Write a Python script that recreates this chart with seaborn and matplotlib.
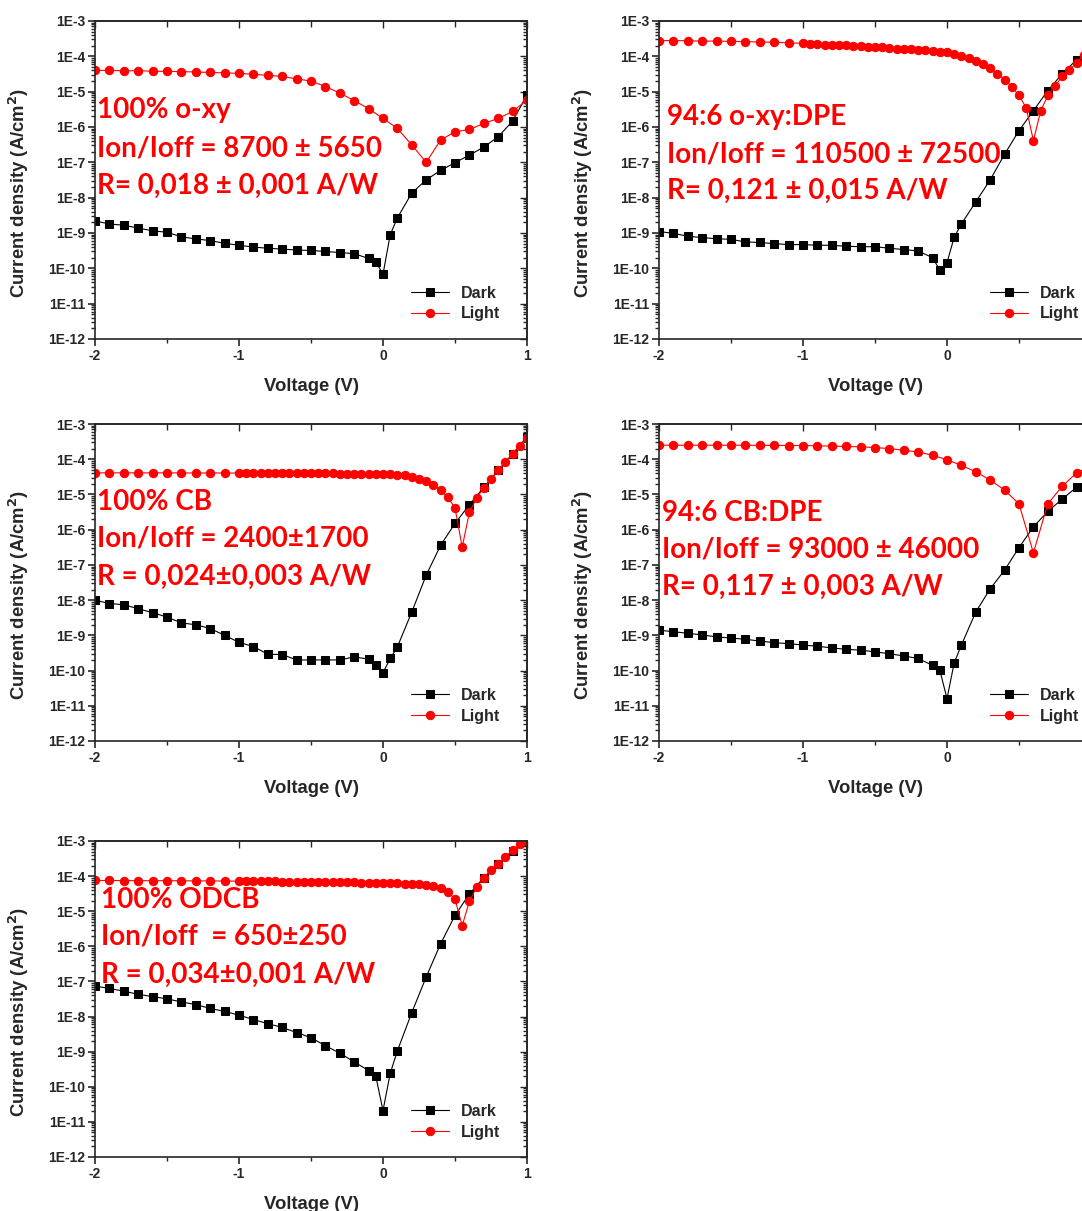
import numpy as np
import pandas as pd
import matplotlib
matplotlib.use("Agg")
import matplotlib.pyplot as plt
import seaborn as sns
from matplotlib.ticker import LogLocator, FuncFormatter, MultipleLocator, NullFormatter

# ---------------- data ----------------
dark_x = [-2.0, -1.9, -1.8, -1.7, -1.6, -1.5, -1.4, -1.3, -1.2, -1.1, -1.0, -0.9, -0.8, -0.7, -0.6,
          -0.5, -0.4, -0.3, -0.2, -0.1, -0.05, 0.0, 0.05, 0.1, 0.2, 0.3, 0.4, 0.5, 0.6, 0.7, 0.8, 0.9, 1.0]

light_x_coarse = [-2.0, -1.9, -1.8, -1.7, -1.6, -1.5, -1.4, -1.3, -1.2, -1.1, -1.0, -0.9, -0.8, -0.7, -0.6,
                  -0.5, -0.4, -0.3, -0.2, -0.1, 0.0, 0.1, 0.2, 0.3, 0.4, 0.5, 0.6, 0.7, 0.8, 0.9, 1.0]

light_x_fine = [-2.0, -1.9, -1.8, -1.7, -1.6, -1.5, -1.4, -1.3, -1.2, -1.1,
                -1.0, -0.95, -0.9, -0.85, -0.8, -0.75, -0.7, -0.65, -0.6, -0.55,
                -0.5, -0.45, -0.4, -0.35, -0.3, -0.25, -0.2, -0.15, -0.1, -0.05,
                0.0, 0.05, 0.1, 0.15, 0.2, 0.25, 0.3, 0.35, 0.4, 0.45,
                0.5, 0.55, 0.6, 0.65, 0.7, 0.75, 0.8, 0.85, 0.9, 0.95, 1.0]

# Panel 1: 100% o-xy
dark_oxy = [2.2e-9, 1.8e-9, 1.66e-9, 1.38e-9, 1.15e-9, 1.05e-9, 7.8e-10, 6.8e-10, 6.1e-10, 5.1e-10,
            4.5e-10, 4.0e-10, 3.7e-10, 3.5e-10, 3.3e-10, 3.2e-10, 3.0e-10, 2.8e-10, 2.6e-10, 1.9e-10,
            1.55e-10, 6.8e-11, 8.9e-10, 2.7e-9, 1.35e-8, 3.2e-8, 5.9e-8, 9.8e-8, 1.6e-7, 2.7e-7,
            5.3e-7, 1.47e-6, 8.0e-6]
light_oxy = [4.0e-5, 4.0e-5, 3.9e-5, 3.9e-5, 3.8e-5, 3.75e-5, 3.7e-5, 3.6e-5, 3.5e-5, 3.4e-5,
             3.3e-5, 3.1e-5, 2.9e-5, 2.7e-5, 2.3e-5, 2.0e-5, 1.4e-5, 9.1e-6, 5.6e-6, 3.3e-6,
             1.75e-6, 9.1e-7, 3.1e-7, 1.0e-7, 4.3e-7, 7.3e-7, 8.5e-7, 1.26e-6, 1.75e-6, 2.75e-6, 5.8e-6]

# Panel 2: 94:6 o-xy:DPE
dark_oxy_dpe = [1.1e-9, 9.8e-10, 8.1e-10, 7.4e-10, 6.9e-10, 6.6e-10, 5.6e-10, 5.4e-10, 5.0e-10, 4.7e-10,
                4.7e-10, 4.5e-10, 4.5e-10, 4.2e-10, 4.1e-10, 4.1e-10, 3.7e-10, 3.4e-10, 3.1e-10, 2.0e-10,
                8.9e-11, 1.45e-10, 7.6e-10, 1.8e-9, 7.6e-9, 3.2e-8, 1.7e-7, 7.9e-7, 2.9e-6, 1.07e-5,
                3.2e-5, 8.0e-5, 1.8e-4]
light_oxy_dpe = [2.8e-4, 2.8e-4, 2.75e-4, 2.7e-4, 2.7e-4, 2.65e-4, 2.6e-4, 2.55e-4, 2.5e-4, 2.4e-4,
                 2.35e-4, 2.3e-4, 2.2e-4, 2.15e-4, 2.1e-4, 2.08e-4, 2.05e-4, 1.98e-4, 1.9e-4, 1.88e-4,
                 1.85e-4, 1.78e-4, 1.7e-4, 1.65e-4, 1.6e-4, 1.58e-4, 1.55e-4, 1.48e-4, 1.4e-4, 1.35e-4,
                 1.3e-4, 1.15e-4, 1.04e-4, 8.8e-5, 7.6e-5, 5.9e-5, 4.7e-5, 3.2e-5, 2.2e-5, 1.38e-5,
                 7.8e-6, 3.5e-6, 4.1e-7, 2.8e-6, 7.8e-6, 1.45e-5, 2.7e-5, 4.1e-5, 6.6e-5, 1.1e-4, 1.6e-4]

# Panel 3: 100% CB
dark_cb = [1.0e-8, 8.0e-9, 7.4e-9, 5.7e-9, 4.4e-9, 3.3e-9, 2.25e-9, 2.0e-9, 1.56e-9, 1.0e-9,
           6.3e-10, 4.8e-10, 2.9e-10, 2.85e-10, 2.0e-10, 2.0e-10, 2.0e-10, 2.0e-10, 2.45e-10, 2.1e-10,
           1.4e-10, 8.7e-11, 2.2e-10, 4.7e-10, 4.6e-9, 5.1e-8, 3.6e-7, 1.5e-6, 5.1e-6, 1.6e-5,
           4.9e-5, 1.4e-4, 4.4e-4]
light_cb = [4.1e-5, 4.1e-5, 4.1e-5, 4.1e-5, 4.1e-5, 4.1e-5, 4.08e-5, 4.08e-5, 4.07e-5, 4.06e-5,
            4.05e-5, 4.05e-5, 4.04e-5, 4.03e-5, 4.02e-5, 4.01e-5, 4.0e-5, 4.0e-5, 3.99e-5, 3.98e-5,
            3.97e-5, 3.96e-5, 3.95e-5, 3.94e-5, 3.93e-5, 3.92e-5, 3.9e-5, 3.89e-5, 3.87e-5, 3.85e-5,
            3.8e-5, 3.7e-5, 3.6e-5, 3.5e-5, 3.2e-5, 2.8e-5, 2.4e-5, 1.9e-5, 1.3e-5, 8.3e-6,
            4.1e-6, 3.2e-7, 3.1e-6, 7.9e-6, 1.55e-5, 2.7e-5, 4.8e-5, 8.2e-5, 1.45e-4, 2.4e-4, 4.1e-4]

# Panel 4: 94:6 CB:DPE
dark_cb_dpe = [1.4e-9, 1.27e-9, 1.14e-9, 1.03e-9, 9.0e-10, 8.4e-10, 7.7e-10, 6.9e-10, 6.2e-10, 5.8e-10,
               5.3e-10, 4.9e-10, 4.4e-10, 4.0e-10, 3.8e-10, 3.4e-10, 3.0e-10, 2.6e-10, 2.2e-10, 1.4e-10,
               1.03e-10, 1.6e-11, 1.65e-10, 5.3e-10, 4.6e-9, 2.1e-8, 7.1e-8, 3.1e-7, 1.2e-6, 3.3e-6,
               7.4e-6, 1.6e-5, 3.0e-5]
light_cb_dpe = [2.5e-4, 2.5e-4, 2.5e-4, 2.5e-4, 2.5e-4, 2.5e-4, 2.5e-4, 2.48e-4, 2.47e-4, 2.45e-4,
                2.45e-4, 2.4e-4, 2.35e-4, 2.3e-4, 2.25e-4, 2.15e-4, 2.0e-4, 1.8e-4, 1.6e-4, 1.3e-4,
                9.7e-5, 6.7e-5, 4.4e-5, 2.55e-5, 1.33e-5, 5.4e-6, 2.2e-7, 5.4e-6, 1.7e-5, 4.1e-5, 6.5e-5]

# Panel 5: 100% ODCB
dark_odcb = [7.4e-8, 6.3e-8, 5.3e-8, 4.3e-8, 3.7e-8, 3.2e-8, 2.6e-8, 2.2e-8, 1.7e-8, 1.4e-8,
             1.1e-8, 8.2e-9, 6.3e-9, 4.9e-9, 3.5e-9, 2.5e-9, 1.47e-9, 9.1e-10, 5.1e-10, 2.9e-10,
             2.0e-10, 2.1e-11, 2.4e-10, 1.06e-9, 1.3e-8, 1.34e-7, 1.18e-6, 7.6e-6, 3.1e-5, 9.1e-5,
             2.2e-4, 5.2e-4, 9.5e-4]
light_odcb = [7.5e-5, 7.5e-5, 7.45e-5, 7.4e-5, 7.4e-5, 7.4e-5, 7.35e-5, 7.3e-5, 7.3e-5, 7.25e-5,
              7.2e-5, 7.2e-5, 7.15e-5, 7.1e-5, 7.1e-5, 7.05e-5, 7.0e-5, 7.0e-5, 6.95e-5, 6.9e-5,
              6.9e-5, 6.85e-5, 6.8e-5, 6.75e-5, 6.7e-5, 6.65e-5, 6.6e-5, 6.55e-5, 6.5e-5, 6.45e-5,
              6.4e-5, 6.3e-5, 6.2e-5, 6.1e-5, 6.0e-5, 5.8e-5, 5.5e-5, 5.1e-5, 4.6e-5, 3.6e-5,
              2.2e-5, 3.9e-6, 1.9e-5, 4.8e-5, 9.1e-5, 1.48e-4, 2.2e-4, 3.6e-4, 5.4e-4, 8.0e-4, 1.0e-3]

labels_oxy = ["100% o-xy", "Ion/Ioff = 8700 \u00b1 5650", "R= 0,018 \u00b1 0,001 A/W"]
labels_oxy_dpe = ["94:6 o-xy:DPE", "Ion/Ioff = 110500 \u00b1 72500", "R= 0,121 \u00b1 0,015 A/W"]
labels_cb = ["100% CB", "Ion/Ioff = 2400\u00b11700", "R = 0,024\u00b10,003 A/W"]
labels_cb_dpe = ["94:6 CB:DPE", "Ion/Ioff = 93000 \u00b1 46000", "R= 0,117 \u00b1 0,003 A/W"]
labels_odcb = ["100% ODCB", "Ion/Ioff  = 650\u00b1250", "R = 0,034\u00b10,001 A/W"]

series_names = ["Dark", "Light"]

# ---------------- style ----------------
sns.set_style("ticks")
plt.rcParams['font.family'] = ['Liberation Sans', 'DejaVu Sans']
plt.rcParams['axes.linewidth'] = 1.2

W, H = 1082, 1211
fig = plt.figure(figsize=(W / 100, H / 100), dpi=100)

panels = [
    # (left px, top px, bottom px, dark, light_x, light, labels, text x px, baselines px, legend x, cut right)
    (95, 21, 339, dark_oxy, light_x_coarse, light_oxy, labels_oxy, 97, [118, 157, 194], 0.713, False),
    (659, 21, 339, dark_oxy_dpe, light_x_fine, light_oxy_dpe, labels_oxy_dpe, 667, [125, 162, 199], 0.748, True),
    (95, 424, 741, dark_cb, light_x_fine, light_cb, labels_cb, 97, [510, 547, 585], 0.713, False),
    (659, 424, 741, dark_cb_dpe, light_x_coarse, light_cb_dpe, labels_cb_dpe, 662, [521, 558, 595], 0.748, True),
    (95, 841, 1157, dark_odcb, light_x_fine, light_odcb, labels_odcb, 101, [908, 945, 983], 0.713, False),
]

AX_W = 432
fmt = FuncFormatter(lambda v, p: "1E{:d}".format(int(round(np.log10(v)))))

for (lpx, tpx, bpx, dark, lx, light, texts, tx, tys, legx, cut) in panels:
    ax = fig.add_axes([lpx / W, 1 - bpx / H, AX_W / W, (bpx - tpx) / H])
    df_d = pd.DataFrame({"V": dark_x, "J": dark})
    df_l = pd.DataFrame({"V": lx, "J": light})
    sns.lineplot(data=df_d, x="V", y="J", ax=ax, color="black", marker="s", markersize=6,
                 markeredgecolor="black", linewidth=0.8, label=series_names[0],
                 estimator=None, sort=False)
    sns.lineplot(data=df_l, x="V", y="J", ax=ax, color="#ff0000", marker="o", markersize=6,
                 markeredgecolor="#ff0000", linewidth=0.8, label=series_names[1],
                 estimator=None, sort=False)
    ax.set_yscale("log")
    ax.set_ylim(1e-12, 1e-3)
    ax.set_xlim(-2, 1)
    ax.yaxis.set_major_locator(LogLocator(base=10, numticks=20))
    ax.yaxis.set_minor_locator(LogLocator(base=10, subs=np.arange(2, 10), numticks=200))
    ax.yaxis.set_major_formatter(fmt)
    ax.yaxis.set_minor_formatter(NullFormatter())
    ax.xaxis.set_major_locator(MultipleLocator(1))
    ax.xaxis.set_minor_locator(MultipleLocator(0.5))
    if cut:
        # the right end of these panels lies past the picture's edge
        ax.xaxis.set_major_formatter(FuncFormatter(
            lambda v, p: "" if v > 0.5 else "{:d}".format(int(round(v)))))
    else:
        ax.xaxis.set_major_formatter(FuncFormatter(lambda v, p: "{:d}".format(int(round(v)))))
    ax.tick_params(which="major", direction="out", length=5, width=1.2, labelsize=10, pad=2)
    ax.tick_params(which="minor", direction="out", length=3, width=1.0)
    for lab in ax.get_xticklabels() + ax.get_yticklabels():
        lab.set_fontweight("bold")

    secx = ax.secondary_xaxis("top")
    secx.xaxis.set_major_locator(MultipleLocator(1))
    secx.xaxis.set_minor_locator(MultipleLocator(0.5))
    secx.tick_params(which="both", direction="in", labeltop=False, width=1.0)
    secx.tick_params(which="major", length=5)
    secx.tick_params(which="minor", length=4)
    secy = ax.secondary_yaxis("right")
    secy.yaxis.set_major_locator(LogLocator(base=10, numticks=20))
    secy.yaxis.set_minor_locator(LogLocator(base=10, subs=np.arange(2, 10), numticks=200))
    secy.tick_params(which="both", direction="in", labelright=False, width=1.0)
    secy.tick_params(which="major", length=5)
    secy.tick_params(which="minor", length=3)

    ax.set_xlabel("Voltage (V)", fontsize=13.3, fontweight="bold", labelpad=11)
    ax.set_ylabel("Current density (A/cm$^\\mathbf{2}$)", fontsize=13.3, fontweight="bold")
    ax.yaxis.set_label_coords(-0.148, 0.46)

    ax.legend(loc="lower left", bbox_to_anchor=(legx, 0.03), frameon=False, borderpad=0,
              handlelength=2.4, handletextpad=0.7, labelspacing=0.35,
              prop={"weight": "bold", "size": 11.5})

    for t, ty in zip(texts, tys):
        fig.text(tx / W, 1 - ty / H, t, color="#ff0000", fontsize=20, fontweight="bold",
                 family=["Lato", "DejaVu Sans"], ha="left", va="baseline")

fig.savefig("out.png", dpi=100)
